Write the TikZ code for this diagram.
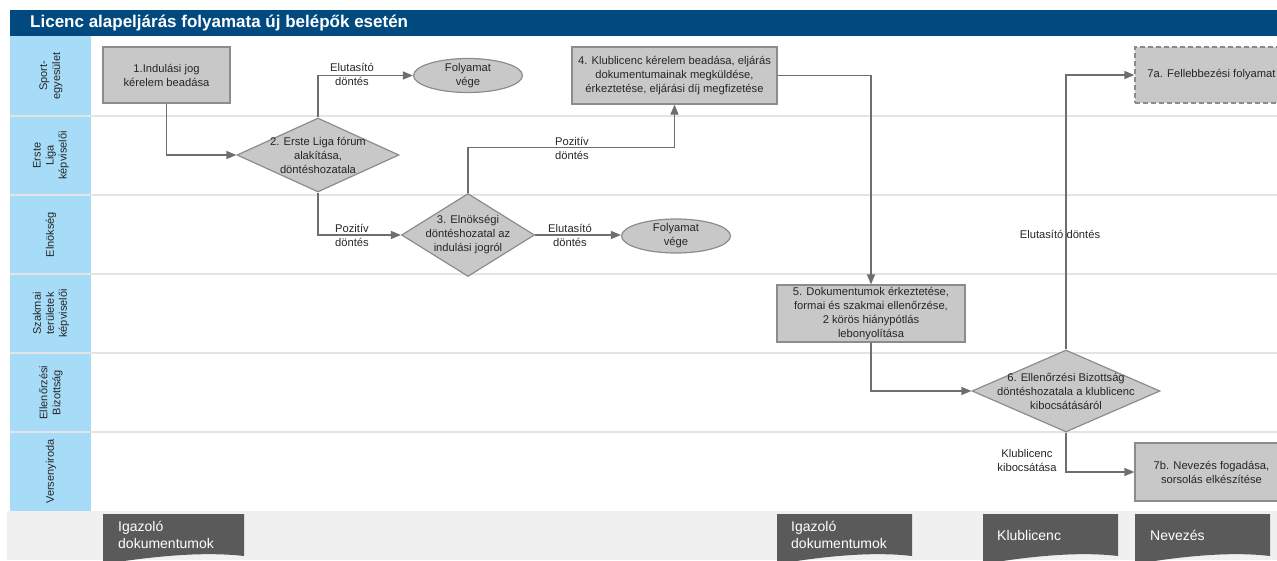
\documentclass[tikz,border=0pt]{standalone}
\usepackage{fontspec}
\setmainfont{Liberation Sans}
\usetikzlibrary{shapes.geometric,arrows.meta,calc}
\definecolor{titleblue}{HTML}{004A80}
\definecolor{laneblue}{HTML}{A6DCF8}
\definecolor{boxfill}{HTML}{C8C8C8}
\definecolor{boxdraw}{HTML}{8C8C8C}
\definecolor{linec}{HTML}{6E6E6E}
\definecolor{divider}{HTML}{E4E4E4}
\definecolor{band}{HTML}{F0F0F0}
\definecolor{tagfill}{HTML}{5A5A5A}
\definecolor{txt}{HTML}{262626}
\begin{document}
\begin{tikzpicture}[x=1pt,y=-1pt,
  every node/.style={font=\fontsize{11.2}{14}\selectfont, text=txt},
  procbox/.style={rectangle, draw=boxdraw, fill=boxfill, line width=1.2pt, align=center, inner sep=2pt},
  decision/.style={diamond, draw=boxdraw, fill=boxfill, line width=1.2pt, inner sep=0pt},
  terminal/.style={ellipse, draw=boxdraw, fill=boxfill, line width=1.2pt, inner sep=0pt},
  arr/.style={draw=linec, line width=1.3pt, -{Triangle[length=10pt,width=8pt]}},
  edgelbl/.style={align=center, inner sep=0pt},
  lanelbl/.style={rotate=90, align=center, font=\fontsize{11}{13}\selectfont},
  tagtext/.style={text=white, align=left, anchor=west, font=\fontsize{14}{17}\selectfont, inner sep=0pt},
]
\path[use as bounding box] (0,0) rectangle (1277,560);
\clip (0,0) rectangle (1277,560);

% title bar
\fill[titleblue] (10,10) rectangle (1277,36);
\node[anchor=west, text=white, font=\fontsize{17}{20}\selectfont\bfseries, inner sep=0pt] (title) at (30,23) {Licenc alapeljárás folyamata új belépők esetén};

% lanes
\fill[laneblue] (10,36) rectangle (91,511);
\foreach \yy in {116,195,274,353,432}
  \draw[divider, line width=2pt] (10,\yy) -- (1277,\yy);
\node[lanelbl] (l1) at (51,76) {Sport-\\egyesület};
\node[lanelbl] (l2) at (51,155.5) {Erste\\Liga\\képviselői};
\node[lanelbl] (l3) at (51,234.5) {Elnökség};
\node[lanelbl] (l4) at (51,313.5) {Szakmai\\területek\\képviselői};
\node[lanelbl] (l5) at (51,392.5) {Ellenőrzési\\Bizottság};
\node[lanelbl] (l6) at (51,471.5) {Versenyiroda};

% bottom band
\fill[band] (7,511) rectangle (1277,560);
\fill[tagfill] (103,514) -- (244,514) -- (244,556) .. controls (200,551) and (150,557) .. (103,564) -- cycle;
\fill[tagfill] (777,514) -- (912,514) -- (912,556) .. controls (870,551) and (820,557) .. (777,564) -- cycle;
\fill[tagfill] (983,514) -- (1118,514) -- (1118,556) .. controls (1076,551) and (1026,557) .. (983,564) -- cycle;
\fill[tagfill] (1135,514) -- (1270,514) -- (1270,556) .. controls (1228,551) and (1178,557) .. (1135,564) -- cycle;
\node[tagtext] (tag1) at (118,535) {Igazoló\\dokumentumok};
\node[tagtext] (tag2) at (791,535) {Igazoló\\dokumentumok};
\node[tagtext] (tag3) at (997,535) {Klublicenc};
\node[tagtext] (tag4) at (1150,535) {Nevezés};

% process nodes
\node[procbox, minimum width=127pt, minimum height=56pt] (box1) at (166.5,75) {1.Indulási jog\\kérelem beadása};
\node[decision, minimum width=162pt, minimum height=74pt,
  label={[align=center]center:{2. Erste Liga fórum\\alakítása,\\döntéshozatala}}] (d2) at (318,155) {};
\node[terminal, minimum width=109pt, minimum height=34pt,
  label={[align=center]center:{Folyamat\\vége}}] (ell1) at (468,75.5) {};
\node[decision, minimum width=133pt, minimum height=83pt,
  label={[align=center]center:{3. Elnökségi\\döntéshozatal az\\indulási jogról}}] (d3) at (468,235) {};
\node[terminal, minimum width=109pt, minimum height=34pt,
  label={[align=center]center:{Folyamat\\vége}}] (ell2) at (676,236) {};
\node[procbox, minimum width=205pt, minimum height=57pt] (box4) at (674.5,75.5) {4. Klublicenc kérelem beadása, eljárás\\dokumentumainak megküldése,\\érkeztetése, eljárási díj megfizetése};
\node[procbox, minimum width=188pt, minimum height=57pt] (box5) at (871,313.5) {5. Dokumentumok érkeztetése,\\formai és szakmai ellenőrzése,\\2 körös hiánypótlás\\lebonyolítása};
\node[decision, minimum width=188pt, minimum height=82pt,
  label={[align=center]center:{6. Ellenőrzési Bizottság\\döntéshozatala a klublicenc\\kibocsátásáról}}] (d6) at (1066,391) {};
\node[procbox, dashed, dash pattern=on 5pt off 3pt, minimum width=153pt, minimum height=56pt] (box7a) at (1211.5,75) {7a. Fellebbezési folyamat};
\node[procbox, minimum width=153pt, minimum height=58pt] (box7b) at (1211.5,472) {7b. Nevezés fogadása,\\sorsolás elkészítése};

% connectors
\draw[arr] (box1) |- (d2);
\draw[arr] (d2.north) |- (ell1);
\draw[arr] (d2.south) |- (d3);
\draw[arr] (d3.east) -- (d3.east -| ell2.west);
\draw[arr] (d3.north) |- ($(box4.south)+(0,43)$) -- (box4.south);
\draw[arr] (box4) -| (box5);
\draw[arr] (box5) |- (d6);
\draw[arr] (d6.north) |- (box7a);
\draw[arr] (d6.south) |- (box7b);

% edge labels
\node[edgelbl] (e1) at (352,74) {Elutasító\\döntés};
\node[edgelbl] (e2) at (352,235) {Pozitív\\döntés};
\node[edgelbl] (e3) at (572,148) {Pozitív\\döntés};
\node[edgelbl] (e4) at (570,235) {Elutasító\\döntés};
\node[edgelbl] (e5) at (1060,234) {Elutasító döntés};
\node[edgelbl] (e6) at (1027,460) {Klublicenc\\kibocsátása};
\end{tikzpicture}
\end{document}
